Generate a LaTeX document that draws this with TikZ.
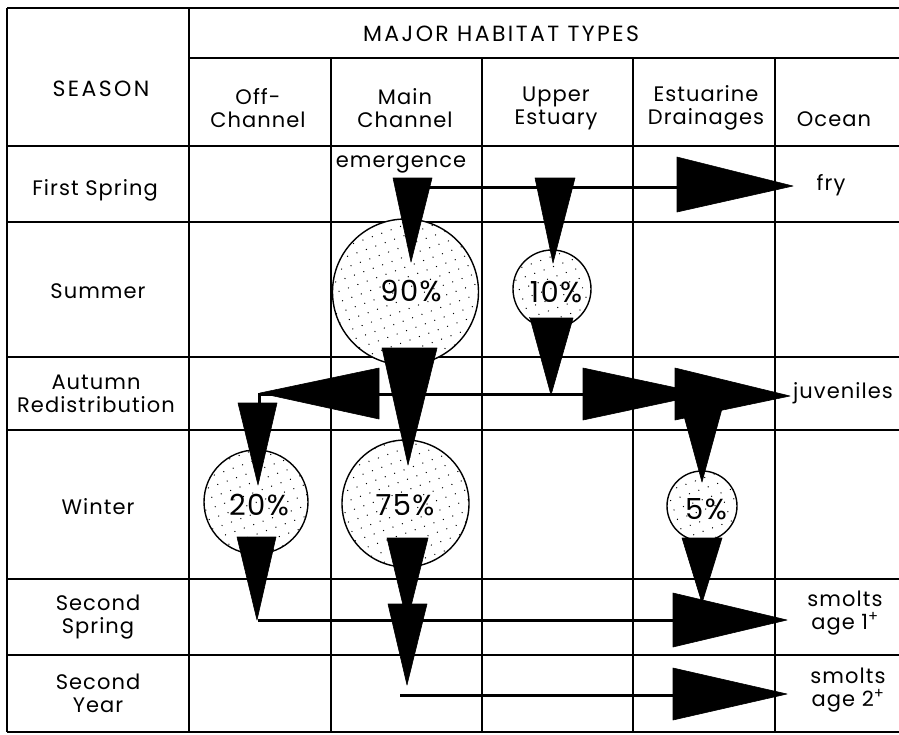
\documentclass[tikz,border=0pt]{standalone}
\usepackage{fontspec}
\setmainfont{Poppins}[LetterSpace=5]
\newfontfamily\capsfont{Poppins}[LetterSpace=11]
\usetikzlibrary{patterns.meta}
\begin{document}
\begin{tikzpicture}[x=1pt,y=-1pt,
  gridline/.style={line width=1.1pt},
  lbl/.style={font=\fontsize{21}{23}\selectfont, align=center, inner sep=0pt},
  caps/.style={font=\capsfont\fontsize{22}{23}\selectfont, align=center, inner sep=0pt},
  pct/.style={font=\fontsize{29}{30}\selectfont, inner sep=0pt},
  stip/.style={circle, draw, line width=1.4pt, inner sep=0pt, fill=white,
    postaction={pattern={Dots[distance=10pt,radius=0.7pt,angle=20]}}},
  flow/.style={line width=3pt},
  head/.style={fill=black, draw=black, line width=0.6pt, line join=round}]
\useasboundingbox (0,0) rectangle (899,734);
% grid
\draw[gridline] (7,8) -- (899,8);
\draw[gridline] (189,58) -- (899,58);
\foreach \yy in {146,222,357,430,579,655,732}
  \draw[gridline] (7,\yy) -- (899,\yy);
\draw[gridline] (7,8) -- (7,732);
\draw[gridline] (189,8) -- (189,732);
\foreach \xx in {331,482,633,775}
  \draw[gridline] (\xx,58) -- (\xx,732);
% headers
\node[caps] (major) at (501,34) {MAJOR HABITAT TYPES};
\node[caps] (season) at (101,89) {SEASON};
\node[lbl] (hoff) at (258,108) {Off-\\Channel};
\node[lbl] (hmain) at (405,108) {Main\\Channel};
\node[lbl] (hupper) at (556,108) {Upper\\Estuary};
\node[lbl] (hest) at (706,108) {Estuarine\\Drainages};
\node[lbl] (hocean) at (834,119) {Ocean};
% seasons
\node[lbl] (s1) at (95,190) {First Spring};
\node[lbl] (s2) at (98,291) {Summer};
\node[lbl] (s3) at (96,394) {Autumn\\Redistribution};
\node[lbl] (s4) at (98,507) {Winter};
\node[lbl] (s5) at (98,617) {Second\\Spring};
\node[lbl] (s6) at (98,693) {Second\\Year};
% circles
\node[stip, minimum size=146pt] (c90) at (405.5,292) {};
\node[stip, minimum size=78pt] (c10) at (552,289) {};
\node[stip, minimum size=104pt] (c20) at (256,502) {};
\node[stip, minimum size=127pt] (c75) at (405.5,503.5) {};
\node[stip, minimum size=70pt] (c5) at (702,506) {};
\node[pct] (t90) at (411,291) {90\%};
\node[pct] (t10) at (556,292) {10\%};
\node[pct] (t20) at (259,505) {20\%};
\node[pct] (t75) at (405,505) {75\%};
\node[pct] (t5) at (706,509) {5\%};
% side labels
\node[lbl] (emerg) at (401,164) {emergence};
\node[lbl] (fry) at (831,185) {fry};
\node[lbl] (juv) at (843,393) {juveniles};
\node[lbl] (sm1) at (845,613) {smolts\\age 1\textsuperscript{+}};
\node[lbl] (sm2) at (848,690) {smolts\\age 2\textsuperscript{+}};
% connector coordinates
\coordinate (e0) at (420,187);
\coordinate (e1) at (680,187);
\coordinate (a0) at (259,404);
\coordinate (a1) at (259,394);
\coordinate (a2) at (680,394);
\coordinate (p0) at (258,620);
\coordinate (p1) at (676,620);
\coordinate (q0) at (400,695);
\coordinate (q1) at (676,695);
\draw[flow] (e0) -- (e1);
\draw[flow] (a0) -- (a1) -- (a2);
\draw[flow] (p0) -- (p1);
\draw[flow] (q0) -- (q1);
% arrowheads
\fill[head] (393,178) -- (432,178) -- (411,262) -- cycle;
\fill[head] (535,178) -- (575,178) -- (553,263) -- cycle;
\fill[head] (677,157) -- (677,212) -- (793,186) -- cycle;
\fill[head] (530,318) -- (573,318) -- (551,395) -- cycle;
\fill[head] (382,348) -- (437,348) -- (408,465) -- cycle;
\fill[head] (379,368) -- (379,419) -- (260,393) -- cycle;
\fill[head] (238,403) -- (277,403) -- (258,485) -- cycle;
\fill[head] (583,368) -- (583,420) -- (705,394) -- cycle;
\fill[head] (681,405) -- (723,405) -- (702,482) -- cycle;
\fill[head] (675,368) -- (675,420) -- (790,396) -- cycle;
\fill[head] (237,537) -- (276,537) -- (257,620) -- cycle;
\fill[head] (387,538) -- (428,538) -- (407,622) -- cycle;
\fill[head] (388,604) -- (427,604) -- (407,685) -- cycle;
\fill[head] (682,538) -- (722,538) -- (702,603) -- cycle;
\fill[head] (673,593) -- (673,647) -- (787,620) -- cycle;
\fill[head] (673,668) -- (673,720) -- (787,694) -- cycle;
\end{tikzpicture}
\end{document}
